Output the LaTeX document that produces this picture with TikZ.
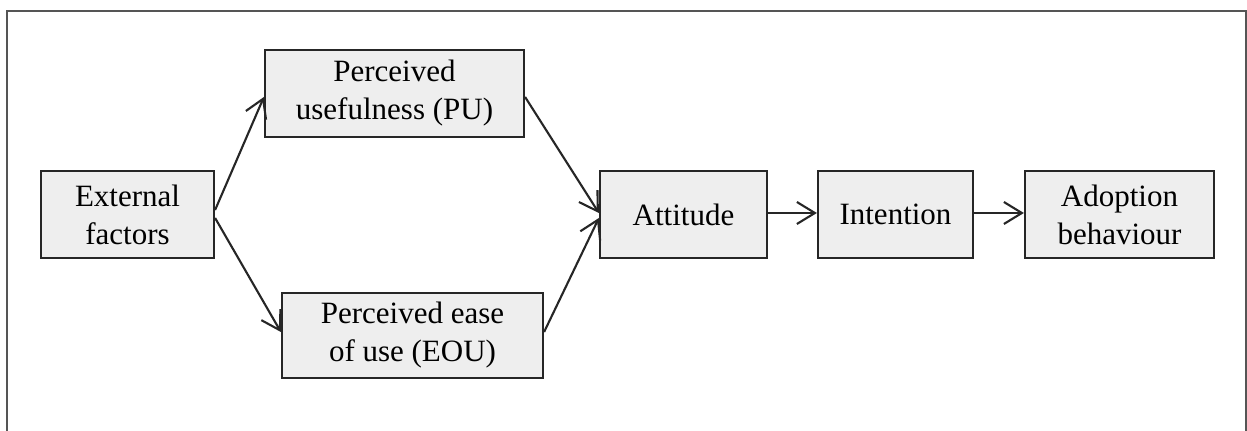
\documentclass[tikz,border=0pt]{standalone}
\usepackage{fontspec}
\setmainfont{Liberation Serif}
\usetikzlibrary{arrows.meta}
\definecolor{boxfill}{HTML}{EEEEEE}
\definecolor{framecol}{HTML}{555555}
\begin{document}
\begin{tikzpicture}[x=0.5pt,y=-0.5pt,
  box/.style={draw=black!85, line width=1.1pt, fill=boxfill, inner sep=0pt,
    minimum height=43.5pt, align=center,
    font=\fontsize{15.5pt}{19pt}\selectfont},
  arr/.style={draw=black!85, line width=1.05pt, -{Straight Barb[length=9pt,width=11pt,line width=1.05pt]}}]
\useasboundingbox (0,0) rectangle (1247,431);
\fill[white] (0,0) rectangle (1247,431);
\draw[framecol, line width=0.8pt] (7,450) -- (7,11) -- (1246,11) -- (1246,450);
\node[box, minimum width=86.5pt] (ext) at (127.5,214.5) {External\\factors};
\node[box, minimum width=129.5pt] (pu) at (394.5,93.5) {Perceived\\usefulness (PU)};
\node[box, minimum width=130.5pt, minimum height=42.5pt] (eou) at (412.5,335.5) {Perceived ease\\of use (EOU)};
\node[box, minimum width=83.5pt] (att) at (683.5,214.5) {Attitude};
\node[box, minimum width=77.5pt] (int) at (895.5,214.5) {Intention};
\node[box, minimum width=94.5pt] (ado) at (1119.5,214.5) {Adoption\\behaviour};
\draw[arr] ([yshift=2.25pt]ext.east) -- ([yshift=-1.75pt]pu.west);
\draw[arr] ([yshift=-1.75pt]ext.east) -- ([yshift=1.75pt]eou.west);
\draw[arr] ([yshift=-1.75pt]pu.east) -- ([yshift=0.75pt]att.west);
\draw[arr] ([yshift=1.75pt]eou.east) -- ([yshift=-1.75pt]att.west);
\draw[arr] ([yshift=0.75pt]att.east) -- ([yshift=0.75pt]int.west);
\draw[arr] ([yshift=0.75pt]int.east) -- ([yshift=0.75pt]ado.west);
\end{tikzpicture}
\end{document}
